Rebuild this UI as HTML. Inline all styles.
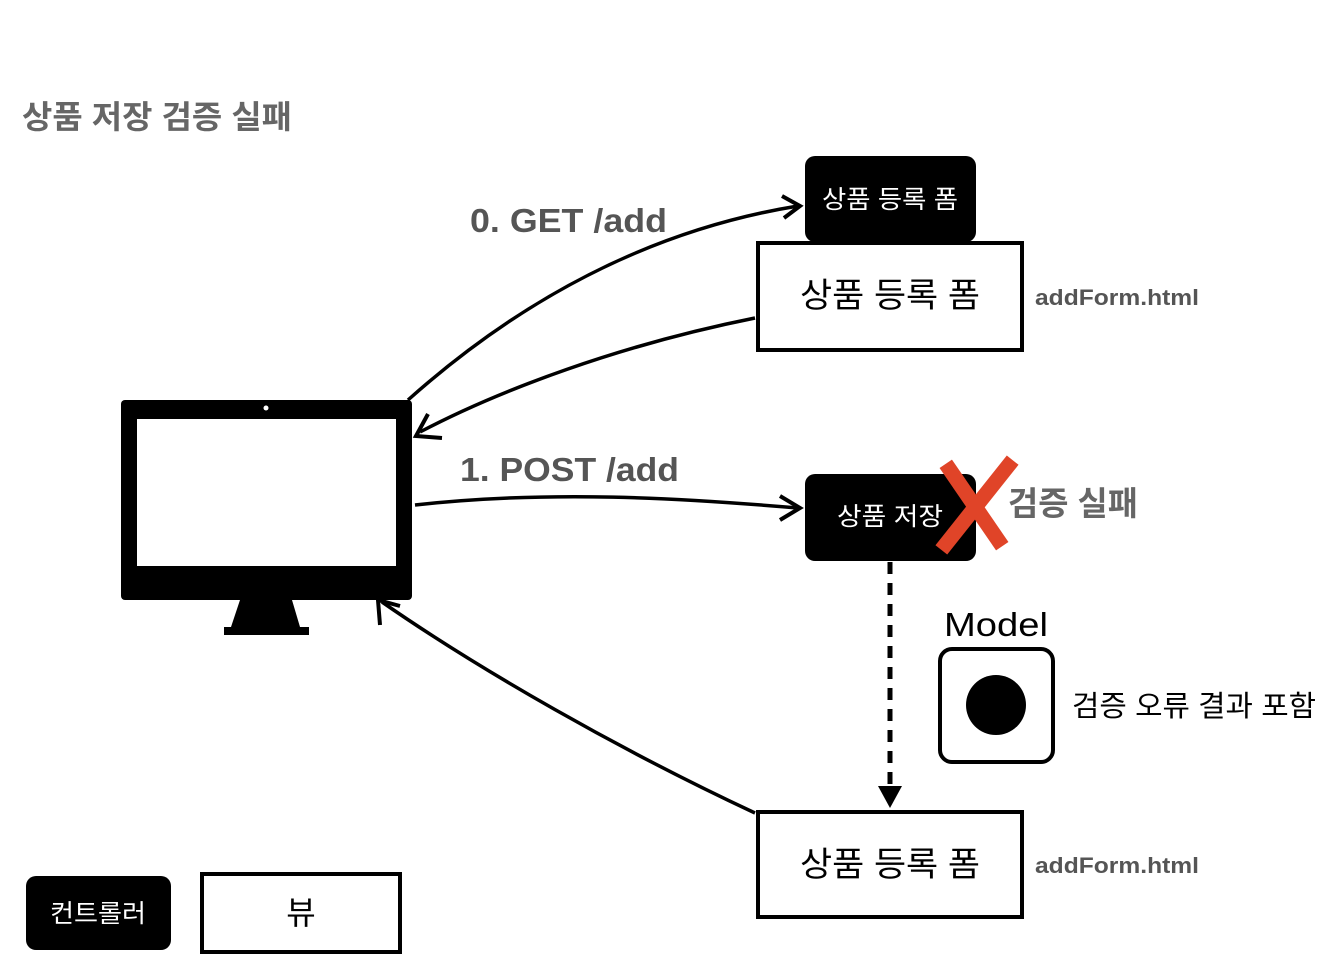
<!DOCTYPE html>
<html><head><meta charset="utf-8"><style>
body{margin:0;background:#fff;}
svg{display:block;}
text{font-family:"Liberation Sans","Noto Sans CJK KR",sans-serif;}
</style></head><body>
<svg width="1344" height="974" viewBox="0 0 1344 974" xmlns="http://www.w3.org/2000/svg">
<text x="22" y="128" font-size="32" font-weight="bold" fill="#666" textLength="270" lengthAdjust="spacingAndGlyphs">상품 저장 검증 실패</text>

<rect x="121" y="400" width="291" height="200" rx="4" fill="#000"/>
<rect x="137" y="419" width="259" height="147" fill="#fff"/>
<circle cx="266" cy="408" r="2.5" fill="#fff"/>
<polygon points="240,600 292,600 300,627 231,627" fill="#000"/>
<rect x="224" y="627" width="85" height="8" fill="#000"/>

<rect x="805" y="156" width="171" height="86" rx="10" fill="#000"/>
<text x="890" y="208" font-size="25" fill="#fff" text-anchor="middle" textLength="136" lengthAdjust="spacingAndGlyphs">상품 등록 폼</text>
<rect x="758" y="243" width="264" height="107" fill="#fff" stroke="#000" stroke-width="4"/>
<text x="890" y="307" font-size="34" fill="#000" text-anchor="middle" textLength="180" lengthAdjust="spacingAndGlyphs">상품 등록 폼</text>
<text x="1035" y="305" font-size="22" font-weight="bold" fill="#555" textLength="164" lengthAdjust="spacingAndGlyphs">addForm.html</text>

<path d="M408,400 C520,300 650,230 798,206" fill="none" stroke="#000" stroke-width="3.5"/>
<path d="M782,196 L800,206 L784,218" fill="none" stroke="#000" stroke-width="4"/>
<path d="M755,318 C620,345 500,390 420,432" fill="none" stroke="#000" stroke-width="3.5"/>
<path d="M428,414 L416,436 L442,438" fill="none" stroke="#000" stroke-width="4"/>
<text x="470" y="232" font-size="33" font-weight="bold" fill="#555" textLength="197" lengthAdjust="spacingAndGlyphs">0. GET /add</text>
<text x="460" y="481" font-size="33" font-weight="bold" fill="#555" textLength="219" lengthAdjust="spacingAndGlyphs">1. POST /add</text>
<path d="M415,505 C550,490 680,498 798,508" fill="none" stroke="#000" stroke-width="3.5"/>
<path d="M780,496 L800,508 L780,520" fill="none" stroke="#000" stroke-width="4"/>
<path d="M755,813 C620,750 480,670 382,602" fill="none" stroke="#000" stroke-width="3.5"/>
<path d="M380,625 L378,600 L400,606" fill="none" stroke="#000" stroke-width="4"/>

<rect x="805" y="474" width="171" height="87" rx="10" fill="#000"/>
<text x="890" y="525" font-size="25" fill="#fff" text-anchor="middle" textLength="106" lengthAdjust="spacingAndGlyphs">상품 저장</text>
<path d="M950,470 L998,540" stroke="#e04428" stroke-width="15" stroke-linecap="square"/>
<path d="M1008,466 L946,544" stroke="#e04428" stroke-width="15" stroke-linecap="square"/>
<text x="1008" y="515" font-size="33" font-weight="bold" fill="#666" textLength="130" lengthAdjust="spacingAndGlyphs">검증 실패</text>

<line x1="890" y1="562" x2="890" y2="790" stroke="#000" stroke-width="5" stroke-dasharray="12,9"/>
<polygon points="878,786 902,786 890,808" fill="#000"/>

<text x="944" y="636" font-size="33" font-weight="500" fill="#000" textLength="104" lengthAdjust="spacingAndGlyphs">Model</text>
<rect x="940" y="649" width="113" height="113" rx="12" fill="#fff" stroke="#000" stroke-width="4"/>
<circle cx="996" cy="705" r="30" fill="#000"/>
<text x="1072" y="716" font-size="29" fill="#000" textLength="244" lengthAdjust="spacingAndGlyphs">검증 오류 결과 포함</text>

<rect x="758" y="812" width="264" height="105" fill="#fff" stroke="#000" stroke-width="4"/>
<text x="890" y="876" font-size="34" fill="#000" text-anchor="middle" textLength="180" lengthAdjust="spacingAndGlyphs">상품 등록 폼</text>
<text x="1035" y="873" font-size="22" font-weight="bold" fill="#555" textLength="164" lengthAdjust="spacingAndGlyphs">addForm.html</text>

<rect x="26" y="876" width="145" height="74" rx="10" fill="#000"/>
<text x="98" y="922" font-size="25" fill="#fff" text-anchor="middle" textLength="96" lengthAdjust="spacingAndGlyphs">컨트롤러</text>
<rect x="202" y="874" width="198" height="78" fill="#fff" stroke="#000" stroke-width="4"/>
<text x="301" y="924" font-size="32" fill="#000" text-anchor="middle">뷰</text>
</svg>
</body></html>
